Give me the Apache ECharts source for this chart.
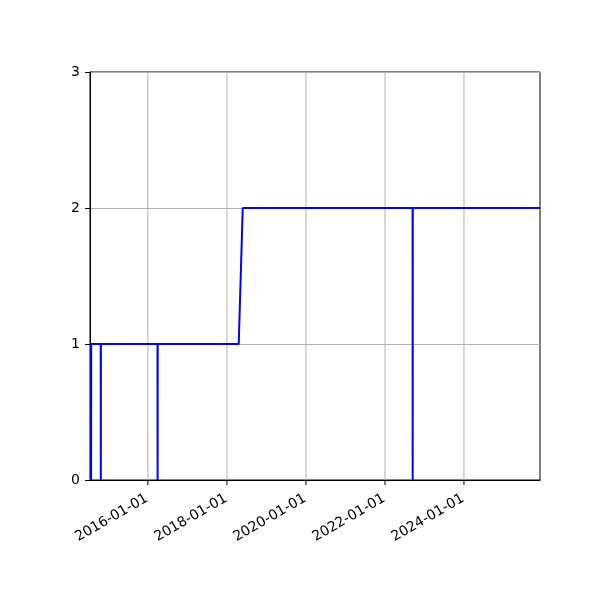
<!DOCTYPE html>
<html>
<head>
<meta charset="utf-8">
<script src="https://cdn.jsdelivr.net/npm/echarts@6/dist/echarts.min.js"></script>
<style>html,body{margin:0;padding:0;background:#fff}#c{width:600px;height:600px}</style>
</head>
<body>
<div id="c"></div>
<script>
const dates = ['2014-07-25','2014-07-26','2014-10-22','2014-10-23','2014-10-24','2016-03-30','2016-03-31','2016-04-01','2018-04-20','2018-05-27','2022-09-13','2022-09-14','2022-09-15','2025-12-04'];
const values = [0,1,1,0,1,1,0,1,1,2,2,0,2,2];
const xTicks = ['2016-01-01','2018-01-01','2020-01-01','2022-01-01','2024-01-01'];
const yTicks = [0,1,2,3];
const xRange = ['2014-07-15','2025-12-04'];

const ts = s => Date.parse(s + 'T00:00:00Z');
const pad = n => String(n).padStart(2,'0');
const fmt = v => { const d = new Date(v); return d.getUTCFullYear()+'-'+pad(d.getUTCMonth()+1)+'-'+pad(d.getUTCDate()); };
const yMin = yTicks[0], yMax = yTicks[yTicks.length-1];

const chart = echarts.init(document.getElementById('c'));
chart.setOption({
  animation: false,
  backgroundColor: '#fff',
  textStyle: { fontFamily: 'DejaVu Sans' },
  grid: { left: 90, right: 60, top: 72, bottom: 120, show: true, borderColor: '#000', borderWidth: 1, backgroundColor: 'transparent', containLabel: false },
  xAxis: {
    type: 'value',
    min: ts(xRange[0]), max: ts(xRange[1]),
    axisLine: { show: true, lineStyle: { color: '#000', width: 1 } },
    axisTick: { show: false },
    axisLabel: { show: true, rotate: 30, margin: 17, padding: [0, 1, 0, 0], color: '#000', fontSize: 14, fontFamily: 'DejaVu Sans', customValues: xTicks.map(ts), formatter: v => fmt(v), hideOverlap: false },
    splitLine: { show: false }
  },
  yAxis: {
    type: 'value', min: yMin, max: yMax, interval: 1,
    axisLine: { show: true, lineStyle: { color: '#000', width: 1 } },
    axisTick: { show: true, inside: false, length: 5, lineStyle: { color: '#000', width: 1 } },
    axisLabel: { margin: 10, color: '#000', fontSize: 14, fontFamily: 'DejaVu Sans' },
    splitLine: { show: true, lineStyle: { color: '#b0b0b0', width: 1 } }
  },
  series: [
    {
      type: 'custom', z: 1, silent: true, clip: false,
      data: xTicks.map(t => [ts(t)]),
      encode: { x: 0 },
      renderItem: (params, api) => {
        const t = api.value(0);
        const p0 = api.coord([t, yMin]);
        const p1 = api.coord([t, yMax]);
        return {
          type: 'group',
          children: [
            { type: 'line', shape: { x1: p0[0], y1: p0[1], x2: p1[0], y2: p1[1] }, style: { stroke: '#b0b0b0', lineWidth: 1 } },
            { type: 'line', shape: { x1: p0[0], y1: p0[1], x2: p0[0], y2: p0[1] + 5 }, style: { stroke: '#000', lineWidth: 1 } }
          ]
        };
      }
    },
    {
      type: 'line', z: 3,
      data: dates.map((d, i) => [ts(d), values[i]]),
      showSymbol: false, symbol: 'none',
      lineStyle: { color: '#0000ff', width: 2 },
      itemStyle: { color: '#0000ff' }
    }
  ]
});
</script>
</body>
</html>
